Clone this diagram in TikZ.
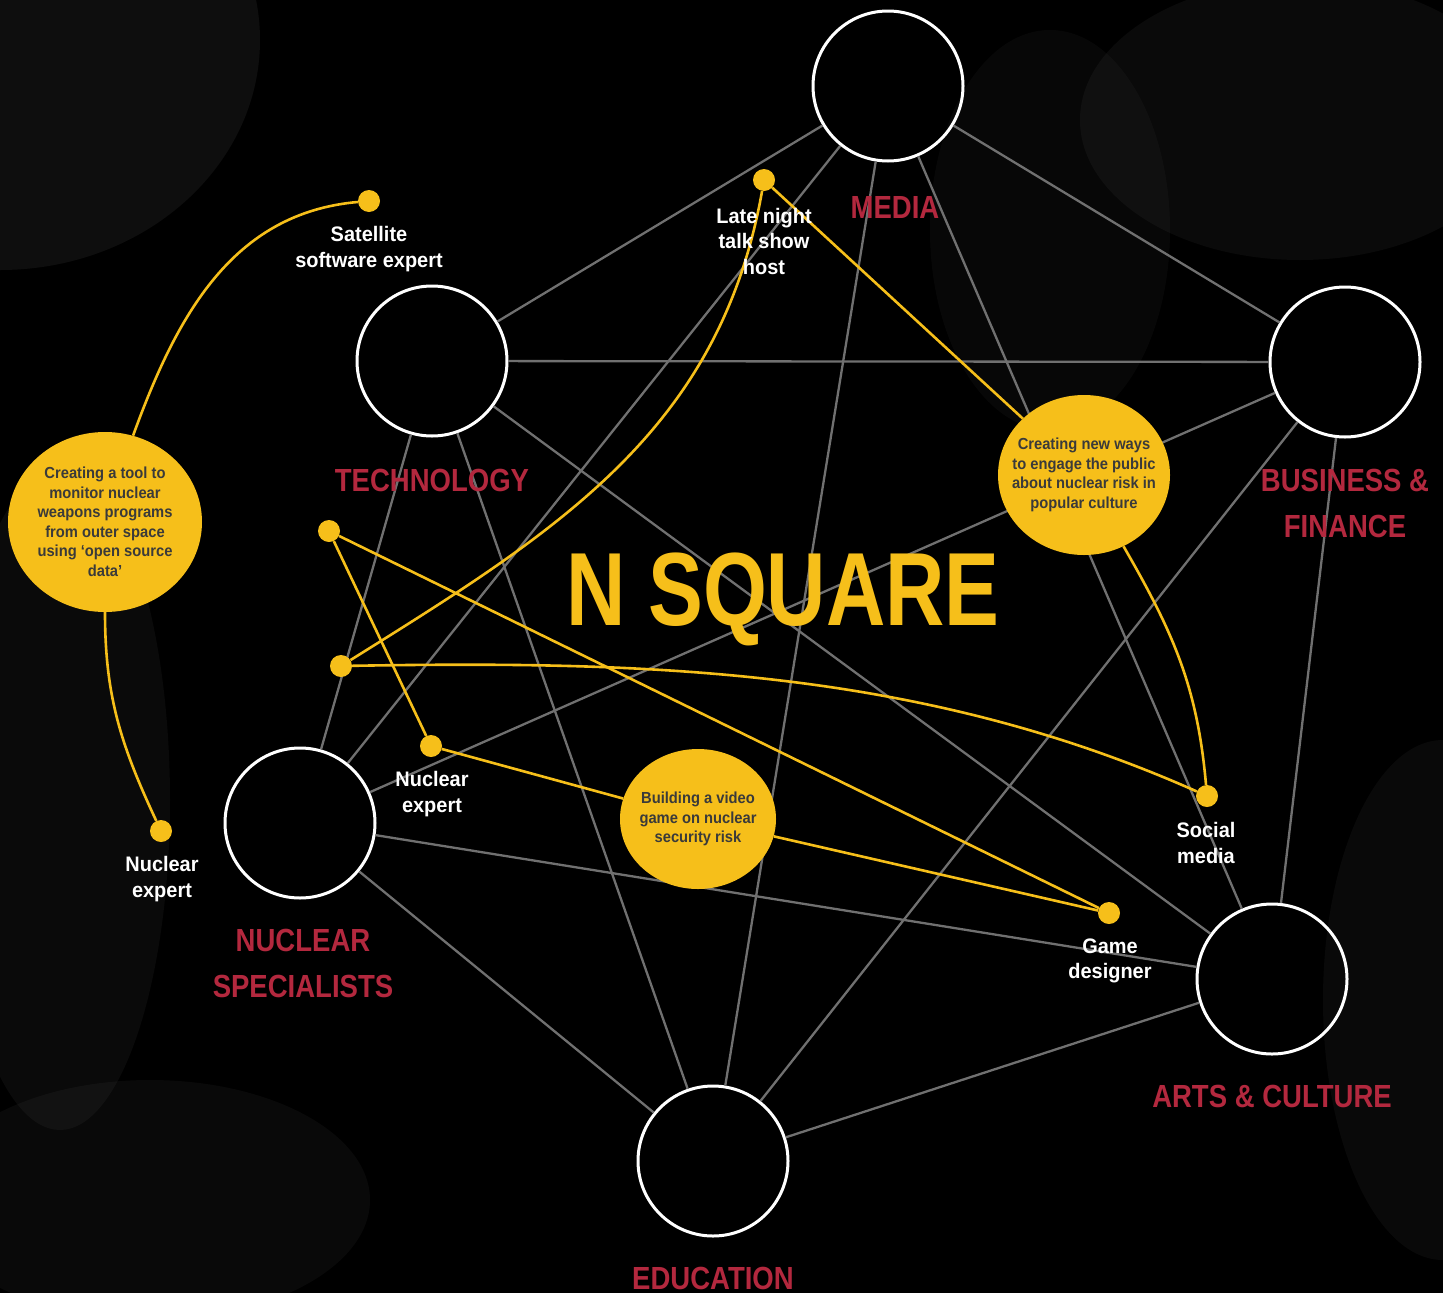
\documentclass[tikz,border=0pt]{standalone}
\usepackage{fontspec}
\setmainfont{Liberation Sans}[FakeStretch=0.86]
\newfontfamily\titlefont{Liberation Sans}[FakeStretch=0.79]
\newfontfamily\whofont{Liberation Sans}[FakeStretch=0.95]
\newfontfamily\projfont{Liberation Sans}[FakeStretch=0.92]
\usetikzlibrary{shapes.geometric}
\definecolor{nsyellow}{HTML}{F6BF1A}
\definecolor{nsred}{HTML}{B3283E}
\definecolor{nsgray}{HTML}{707070}
\definecolor{nsink}{HTML}{3A3A3A}
\tikzset{
  hub/.style={circle,draw=white,line width=3pt,minimum size=150pt,inner sep=0pt},
  link/.style={nsgray,line width=2.3pt},
  thread/.style={nsyellow,line width=2.6pt},
  project/.style={ellipse,fill=nsyellow,inner sep=-30pt,align=center,text=nsink,
    font=\projfont\bfseries\fontsize{16}{19.5}\selectfont},
  ydot/.style={circle,fill=nsyellow,minimum size=22pt,inner sep=0pt},
  who/.style={text=white,align=center,inner sep=0pt,font=\whofont\bfseries\fontsize{21}{25.5}\selectfont},
  sector/.style={text=nsred,align=center,inner sep=0pt,font=\bfseries\fontsize{32}{46}\selectfont},
}
\begin{document}
\begin{tikzpicture}[x=1pt,y=1pt]
\fill[black] (0,0) rectangle (1443,-1293);
\useasboundingbox (0,0) rectangle (1443,-1293);
% rough texture
\fill[gray,opacity=.11] (0,-40) ellipse (260 and 230);
\fill[gray,opacity=.08] (60,-800) ellipse (110 and 330);
\fill[gray,opacity=.08] (1300,-120) ellipse (220 and 140);
\fill[gray,opacity=.07] (1443,-1000) ellipse (120 and 260);
\fill[gray,opacity=.07] (150,-1200) ellipse (220 and 120);
\fill[gray,opacity=.06] (1050,-230) ellipse (120 and 200);
% sectors
\node[hub] (media) at (888,-86) {};
\node[hub] (tech) at (432,-361) {};
\node[hub] (biz) at (1345,-362) {};
\node[hub] (nuc) at (300,-823) {};
\node[hub] (arts) at (1272,-979) {};
\node[hub] (edu) at (713,-1161) {};
\foreach \a/\b in {media/tech,media/biz,media/nuc,media/edu,media/arts,
  tech/biz,tech/nuc,tech/edu,tech/arts,biz/nuc,biz/edu,biz/arts,
  nuc/edu,nuc/arts,edu/arts}
  \draw[link] (\a) -- (\b);
\node[sector] (medialbl) at (895,-207) {MEDIA};
\node[sector] (techlbl) at (432,-480) {TECHNOLOGY};
\node[sector] (bizlbl) at (1345,-503) {BUSINESS \&\\FINANCE};
\node[sector] (nuclbl) at (303,-963) {NUCLEAR\\SPECIALISTS};
\node[sector] (artslbl) at (1272,-1096) {ARTS \& CULTURE};
\node[sector] (edulbl) at (713,-1278) {EDUCATION};
\node[text=nsyellow,inner sep=0pt,font=\titlefont\bfseries\fontsize{104}{104}\selectfont] (title) at (783,-599) {N SQUARE};
% projects
\node[project,minimum width=194pt,minimum height=180pt] (toolproj) at (105,-522)
  {Creating a tool to\\monitor nuclear\\weapons programs\\from outer space\\using ‘open source\\data’};
\node[project,minimum width=172pt,minimum height=160pt] (popproj) at (1084,-475)
  {Creating new ways\\to engage the public\\about nuclear risk in\\popular culture};
\node[project,minimum width=156pt,minimum height=140pt] (gameproj) at (698,-819)
  {Building a video\\game on nuclear\\security risk};
% people
\node[ydot] (satdot) at (369,-201) {};
\node[ydot] (nucdotA) at (161,-831) {};
\node[ydot] (hostdot) at (764,-180) {};
\node[ydot] (freeA) at (329,-531) {};
\node[ydot] (freeB) at (341,-666) {};
\node[ydot] (nucdotB) at (431,-746) {};
\node[ydot] (socdot) at (1207,-796) {};
\node[ydot] (gamedot) at (1109,-913) {};
\draw[thread] (satdot) to[out=185,in=70] (toolproj.72);
\draw[thread] (toolproj.south) to[out=-90,in=115] (nucdotA);
\draw[thread] (hostdot) to[out=-100,in=32] (freeB);
\draw[thread] (hostdot) -- (popproj);
\draw[thread] (popproj.-61) to[out=-60,in=95] (socdot);
\draw[thread] (freeB) to[out=1,in=156,looseness=.9] (socdot);
\draw[thread] (freeA) -- (nucdotB);
\draw[thread] (freeA) -- (gamedot);
\draw[thread] (nucdotB) -- (gameproj);
\draw[thread] (gameproj) -- (gamedot);
\node[who] (satlbl) at (369,-249) {Satellite\\software expert};
\node[who] (nucAlbl) at (162,-879) {Nuclear\\expert};
\node[who] (hostlbl) at (764,-241) {Late night\\talk show\\host};
\node[who] (nucBlbl) at (432,-794) {Nuclear\\expert};
\node[who] (soclbl) at (1206,-843) {Social\\media};
\node[who] (gamelbl) at (1110,-961) {Game\\designer};
\end{tikzpicture}
\end{document}
